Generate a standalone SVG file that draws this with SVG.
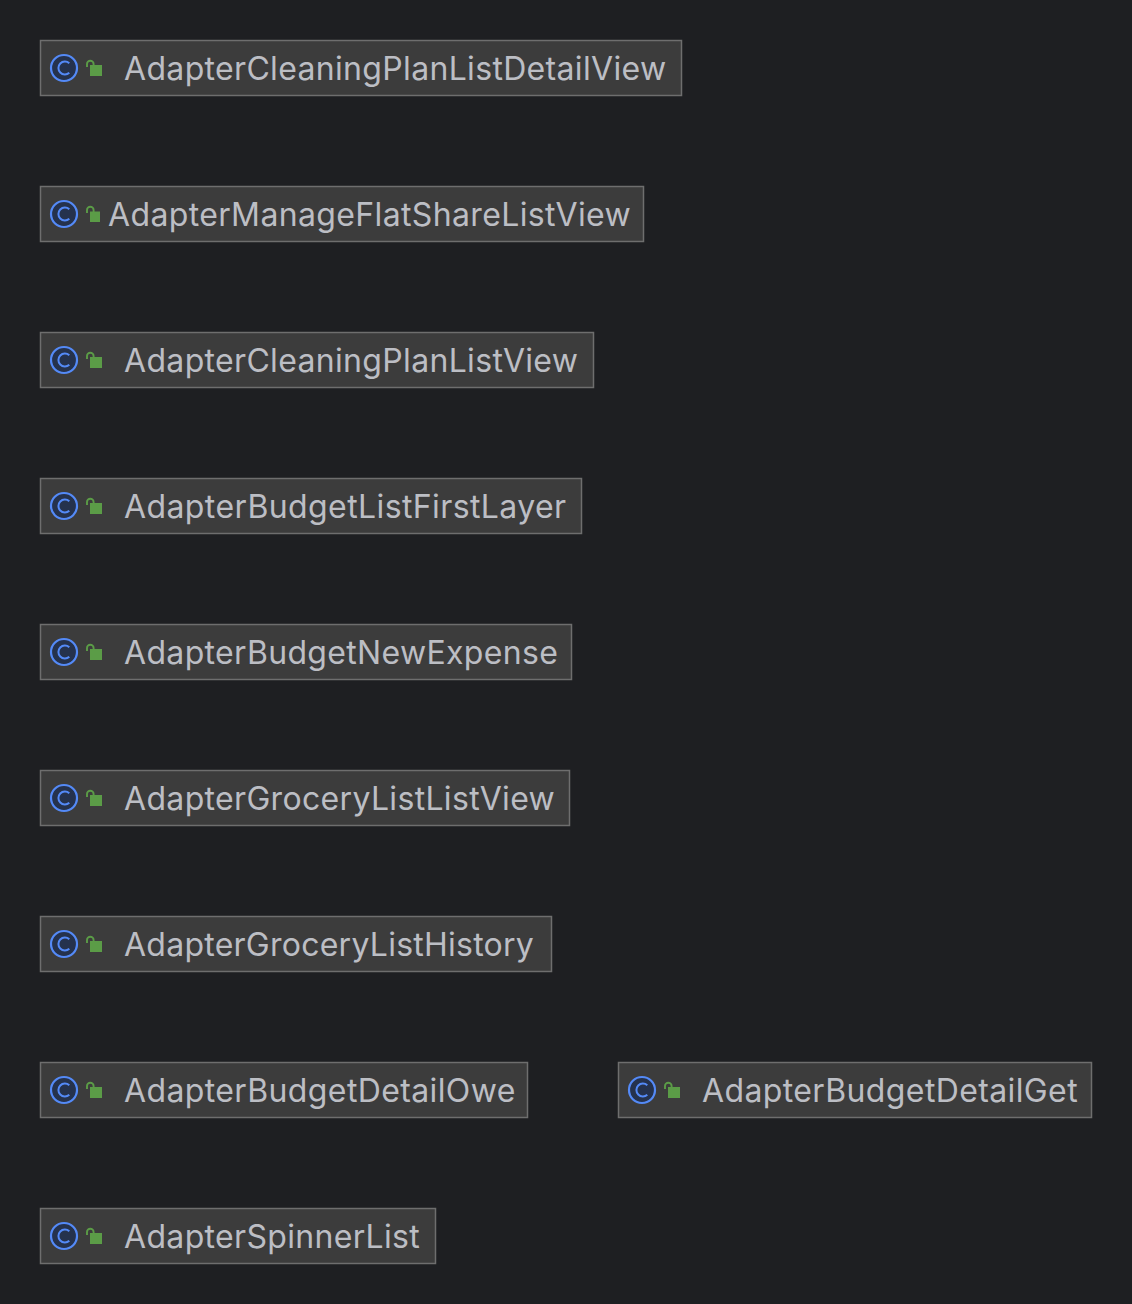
<svg xmlns="http://www.w3.org/2000/svg" width="1132" height="1304" viewBox="0 0 1132 1304">
<style>
.box{fill:#3c3c3c;stroke:#6e6e6e;stroke-width:1.5}
.lbl{font-family:Inter,"Noto Sans",sans-serif;font-size:32px;letter-spacing:.33px;fill:#bcbec4}
</style>
<defs>
<g id="ic">
<circle cx="64" cy="68" r="13" fill="#25324d" stroke="#548af7" stroke-width="2.2"/>
<path d="M69.300 63.200A6.500 6.500 0 1 0 69.300 72.800" fill="none" stroke="#548af7" stroke-width="2"/>
</g>
<g id="lock">
<path d="M87 67V64a3.300 3.300 0 0 1 6.600 0V66" fill="none" stroke="#5b9c47" stroke-width="1.900"/>
<rect x="90" y="65" width="12" height="11" fill="#5b9c47"/>
</g>
<g id="lockN">
<path d="M87 67V64a3.300 3.300 0 0 1 6.600 0V66" fill="none" stroke="#5b9c47" stroke-width="1.900"/>
<rect x="90" y="65.500" width="10" height="10.500" fill="#5b9c47"/>
</g>
</defs>
<rect width="1132" height="1304" fill="#1e1f22"/>
<g id="connectors"/>
<g id="n1"><rect class="box" x="40.500" y="40.500" width="641" height="55"/><use href="#ic"/><use href="#lock"/><text class="lbl" x="124" y="80">AdapterCleaningPlanListDetailView</text></g>
<g id="n2" transform="translate(0,146)"><rect class="box" x="40.500" y="40.500" width="603" height="55"/><use href="#ic"/><use href="#lockN"/><text class="lbl" x="108" y="80" style="letter-spacing:.36px">AdapterManageFlatShareListView</text></g>
<g id="n3" transform="translate(0,292)"><rect class="box" x="40.500" y="40.500" width="553" height="55"/><use href="#ic"/><use href="#lock"/><text class="lbl" x="124" y="80">AdapterCleaningPlanListView</text></g>
<g id="n4" transform="translate(0,438)"><rect class="box" x="40.500" y="40.500" width="541" height="55"/><use href="#ic"/><use href="#lock"/><text class="lbl" x="124" y="80" style="letter-spacing:.4px">AdapterBudgetListFirstLayer</text></g>
<g id="n5" transform="translate(0,584)"><rect class="box" x="40.500" y="40.500" width="531" height="55"/><use href="#ic"/><use href="#lock"/><text class="lbl" x="124" y="80">AdapterBudgetNewExpense</text></g>
<g id="n6" transform="translate(0,730)"><rect class="box" x="40.500" y="40.500" width="529" height="55"/><use href="#ic"/><use href="#lock"/><text class="lbl" x="124" y="80">AdapterGroceryListListView</text></g>
<g id="n7" transform="translate(0,876)"><rect class="box" x="40.500" y="40.500" width="511" height="55"/><use href="#ic"/><use href="#lock"/><text class="lbl" x="124" y="80" style="letter-spacing:.25px">AdapterGroceryListHistory</text></g>
<g id="n8" transform="translate(0,1022)"><rect class="box" x="40.500" y="40.500" width="487" height="55"/><use href="#ic"/><use href="#lock"/><text class="lbl" x="124" y="80" style="letter-spacing:.38px">AdapterBudgetDetailOwe</text></g>
<g id="n9" transform="translate(578,1022)"><rect class="box" x="40.500" y="40.500" width="473" height="55"/><use href="#ic"/><use href="#lock"/><text class="lbl" x="124" y="80" style="letter-spacing:.38px">AdapterBudgetDetailGet</text></g>
<g id="n10" transform="translate(0,1168)"><rect class="box" x="40.500" y="40.500" width="395" height="55"/><use href="#ic"/><use href="#lock"/><text class="lbl" x="124" y="80">AdapterSpinnerList</text></g>
</svg>
